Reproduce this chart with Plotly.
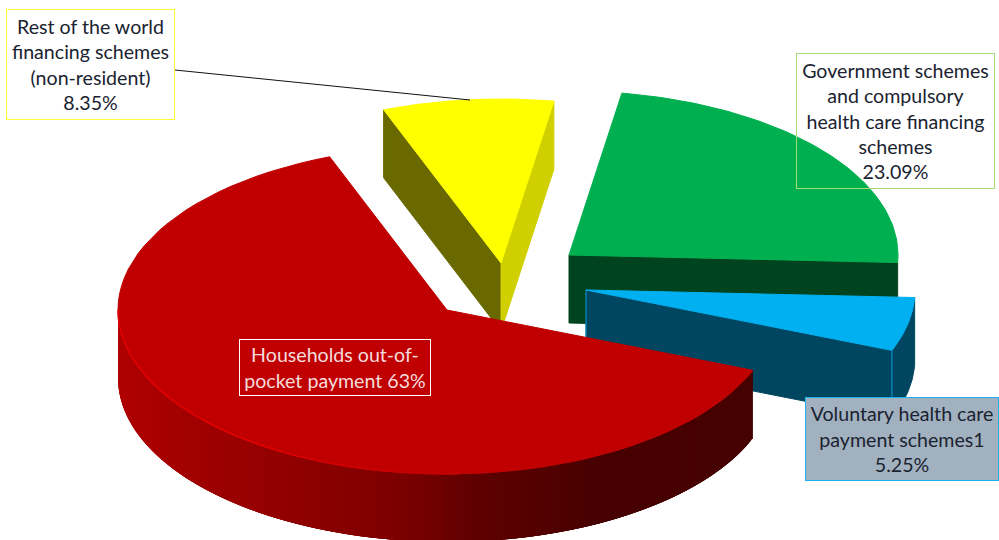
import numpy as np
import plotly.graph_objects as go

# slices, clockwise
names = ["Rest of the world financing schemes (non-resident)",
         "Government schemes and compulsory health care financing schemes",
         "Voluntary health care payment schemes1",
         "Households out-of-pocket payment"]
values = [8.35, 23.09, 5.25, 63]

top_colors = ["#ffff00", "#00b050", "#00b0f0", "#c00000"]
wall_colors = ["#696900", "#00441f", "#004661", "#480000"]
yellow_right_wall = "#d0cf00"

# pie geometry in pixels of the 999x540 page
CX, CY = 447, 310
RX, RY = 329, 164
DEPTH = 68
START = 339.1
explode = [(54, -47), (122, -55), (139, -20), (0, 0)]

# shading of the red outer wall, by page x
wall_x = [118, 200, 300, 400, 480, 600, 760]
wall_r = [176, 160, 144, 125, 95, 72, 70]


def rim(angle, ox, oy):
    # angle is clockwise from the top of the pie
    a = np.radians(angle)
    return CX + ox + RX * np.sin(a), CY + oy - RY * np.cos(a)


def poly(fig, x, y, color, width=1):
    fig.add_trace(go.Scatter(x=list(x), y=list(y), mode="lines", fill="toself",
                             fillcolor=color, line=dict(color=color, width=width),
                             hoverinfo="skip", showlegend=False))


def top_face(fig, a0, a1, ox, oy, color):
    t = np.linspace(a0, a1, 80)
    x, y = rim(t, ox, oy)
    poly(fig, np.r_[CX + ox, x, CX + ox], np.r_[CY + oy, y, CY + oy], color)


def radial_wall(fig, a, ox, oy, color):
    x, y = rim(a, ox, oy)
    ax, ay = CX + ox, CY + oy
    poly(fig, [ax, x, x, ax, ax], [ay, y, y + DEPTH, ay + DEPTH, ay], color)


def rim_wall(fig, a0, a1, ox, oy, color):
    t = np.linspace(a0, a1, 30)
    x, y = rim(t, ox, oy)
    poly(fig, np.r_[x, x[::-1], x[0]], np.r_[y, y[::-1] + DEPTH, y[0]], color)


total = sum(values)
edges = [START]
for v in values:
    edges.append(edges[-1] + v / total * 360)

fig = go.Figure()

# green
a0, a1 = edges[1], edges[2]
radial_wall(fig, a1, *explode[1], wall_colors[1])
top_face(fig, a0, a1, *explode[1], top_colors[1])

# yellow
a0, a1 = edges[0], edges[1]
radial_wall(fig, a0, *explode[0], wall_colors[0])
radial_wall(fig, a1, *explode[0], yellow_right_wall)
top_face(fig, a0, a1, *explode[0], top_colors[0])

# blue
a0, a1 = edges[2], edges[3]
ox, oy = explode[2]
rim_wall(fig, a0, a1, ox, oy, wall_colors[2])
radial_wall(fig, a1, ox, oy, wall_colors[2])
top_face(fig, a0, a1, ox, oy, top_colors[2])
ex, ey = rim(a1, ox, oy)
fig.add_trace(go.Scatter(x=[ex, ex], y=[ey, ey + DEPTH], mode="lines",
                         line=dict(color="#0c9fd8", width=1), hoverinfo="skip", showlegend=False))
fig.add_trace(go.Scatter(x=[CX + ox, CX + ox], y=[CY + oy, CY + oy + DEPTH], mode="lines",
                         line=dict(color="#0b9ad2", width=1), hoverinfo="skip", showlegend=False))

# red, outer wall in strips for the shading. each strip runs on under the next
# ones so no seams show between them
a0, a1 = edges[3], edges[4]
steps = np.linspace(a0, 630, 160)
for i in range(len(steps) - 1):
    t = steps[i:i + 5]
    x, y = rim(t, 0, 0)
    r = np.interp(x[0], wall_x, wall_r)
    poly(fig, np.r_[x, x[::-1], x[0]], np.r_[y, y[::-1] + DEPTH, y[0]], "rgb(%d,0,0)" % r, width=0)
top_face(fig, a0, a1, 0, 0, top_colors[3])

# bright edge along the front left of the red slice
steps = np.linspace(538, 630, 40)
for s0, s1 in zip(steps[:-1], steps[1:]):
    x0, y0 = rim(s0, 0, 0)
    x1, y1 = rim(s1, 0, 0)
    g = np.interp((s0 + s1) / 2, [538, 575, 630], [192, 232, 226])
    fig.add_trace(go.Scatter(x=[x0, x1], y=[y0, y1], mode="lines",
                             line=dict(color="rgb(%d,0,0)" % g, width=1.5),
                             hoverinfo="skip", showlegend=False))

FONT = "Lato"
text_dark = "#1a2330"

fig.add_shape(type="line", x0=175, y0=70, x1=470, y1=100, line=dict(color="#111111", width=1))


def label(text, x0, y0, x1, y1, border, bg="rgba(0,0,0,0)", color=text_dark):
    fig.add_annotation(x=x0, y=y0, xref="x", yref="y", xanchor="left", yanchor="top",
                       text=text, showarrow=False, align="center", valign="middle",
                       width=x1 - x0 - 2, height=y1 - y0 - 2, borderwidth=1, borderpad=0,
                       bordercolor=border, bgcolor=bg,
                       font=dict(family=FONT, size=19.6, color=color))


label("Rest of the world<br>financing schemes<br>(non-resident)<br>%.2f%%" % values[0],
      6, 9, 175, 120, "#ffff33")
label("Government schemes<br>and compulsory<br>health care financing<br>schemes<br>%.2f%%" % values[1],
      796, 53, 995, 189, "#a6dc7a")
label("Voluntary health care<br>payment schemes1<br>%.2f%%" % values[2],
      805, 397, 999, 481, "#1cb0ef", bg="#a2b1c0")
label("Households out-of-<br>pocket payment %d%%" % values[3],
      239, 339, 431, 396, "#ffffff", color="#f6dcdc")

fig.update_xaxes(range=[0, 999], visible=False, fixedrange=True)
fig.update_yaxes(range=[540, 0], visible=False, fixedrange=True)
fig.update_layout(width=999, height=540, margin=dict(l=0, r=0, t=0, b=0),
                  paper_bgcolor="white", plot_bgcolor="white", showlegend=False)

fig.write_html("out.html", config={"displayModeBar": False},
               post_script="document.body.style.margin='0';document.body.style.overflow='hidden';")
